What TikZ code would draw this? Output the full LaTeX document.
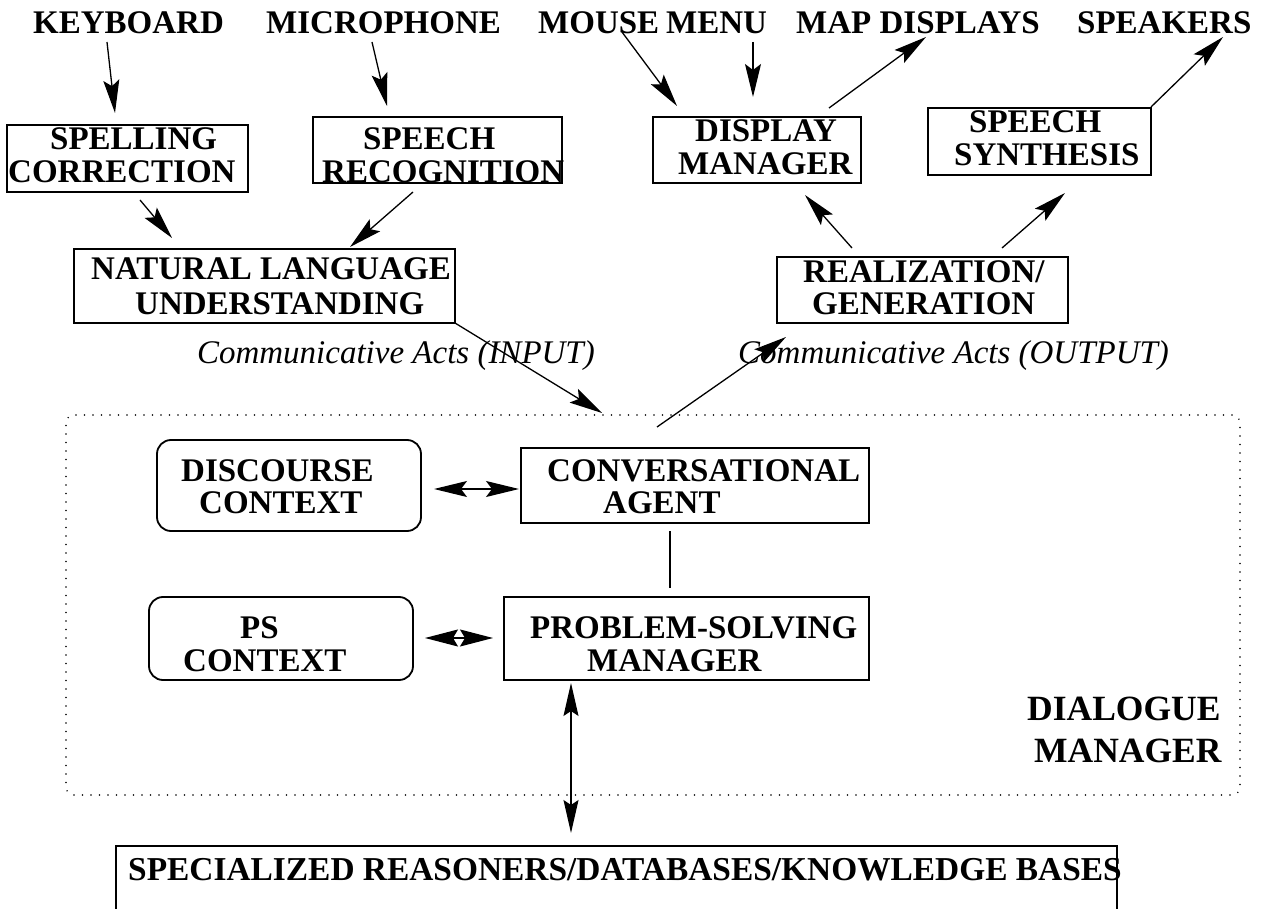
\documentclass[tikz,border=0pt]{standalone}
\usepackage{fontspec}
\setmainfont{Liberation Serif}
\usetikzlibrary{arrows.meta}
\tikzset{
 lbl/.style={inner sep=0pt, anchor=base west, font=\fontsize{33}{33}\selectfont\bfseries},
 dlbl/.style={inner sep=0pt, anchor=base west, font=\fontsize{35.5}{35.5}\selectfont\bfseries},
 ital/.style={inner sep=0pt, font=\fontsize{33}{33}\selectfont\itshape},
 box/.style={draw, line width=1.8pt, inner sep=0pt},
 rbox/.style={box, rounded corners=14pt},
 dmbox/.style={draw, line width=1.6pt, line cap=round, dash pattern=on 0pt off 8.5pt, rounded corners=8pt, inner sep=0pt},
 arr/.style={line width=1.3pt, -{Stealth[length=33pt,width=16pt,inset=6pt]}},
 darr/.style={line width=1.3pt, {Stealth[length=33pt,width=16pt,inset=6pt]}-{Stealth[length=33pt,width=16pt,inset=6pt]}},
 pdarr/.style={line width=1.3pt, {Stealth[length=33pt,width=17pt,inset=5pt]}-{Stealth[length=33pt,width=17pt,inset=5pt]}},
 vdarr/.style={line width=1.3pt, {Stealth[length=33pt,width=15pt,inset=5pt]}-{Stealth[length=33pt,width=15pt,inset=5pt]}},
 link/.style={line width=1.3pt},
}
\begin{document}
\begin{tikzpicture}[x=1pt,y=-1pt]
\useasboundingbox (0,0) rectangle (1267,909);
\clip (0,0) rectangle (1267,909);
\fill[white] (0,0) rectangle (1267,909);

% top labels
\node[lbl] (kb) at (33,34) {KEYBOARD};
\node[lbl] (mic) at (266,34) {MICROPHONE};
\node[lbl] (mouse) at (538,34) {MOUSE};
\node[lbl] (menu) at (666,34) {MENU};
\node[lbl] (map) at (796,34) {MAP DISPLAYS};
\node[lbl] (spk) at (1077,34) {SPEAKERS};

% boxes
\node[box, minimum width=241pt, minimum height=67pt] (spell) at (127.5,158.5) {};
\node[lbl] (spell1) at (50,150) {SPELLING};
\node[lbl] (spell2) at (8,183) {CORRECTION};

\node[box, minimum width=249pt, minimum height=66pt] (sreco) at (437.5,150) {};
\node[lbl] (sreco1) at (363,150) {SPEECH};
\node[lbl] (sreco2) at (322,183) {RECOGNITION};

\node[box, minimum width=381pt, minimum height=74pt] (nlu) at (264.5,286) {};
\node[lbl] (nlu1) at (91,280) {NATURAL LANGUAGE};
\node[lbl] (nlu2) at (135,315) {UNDERSTANDING};

\node[box, minimum width=208pt, minimum height=66pt] (disp) at (757,150) {};
\node[lbl] (disp1) at (695,142) {DISPLAY};
\node[lbl] (disp2) at (678,175) {MANAGER};

\node[box, minimum width=223pt, minimum height=67pt] (synth) at (1039.5,141.5) {};
\node[lbl] (synth1) at (969,133) {SPEECH};
\node[lbl] (synth2) at (954,166) {SYNTHESIS};

\node[box, minimum width=291pt, minimum height=66pt] (real) at (922.5,290) {};
\node[lbl] (real1) at (803,283) {REALIZATION/};
\node[lbl] (real2) at (812,315) {GENERATION};

\node[ital, anchor=base east] (cin) at (595,364) {Communicative Acts (INPUT)};
\node[ital, anchor=base west] (cout) at (738,364) {Communicative Acts (OUTPUT)};

% dialogue manager
\node[dmbox, minimum width=1174pt, minimum height=380pt] (dm) at (653,605) {};
\node[dlbl] (dm1) at (1027,720) {DIALOGUE};
\node[dlbl] (dm2) at (1034,762) {MANAGER};

\node[rbox, minimum width=264pt, minimum height=91pt] (disc) at (289,485.5) {};
\node[lbl] (disc1) at (181,481) {DISCOURSE};
\node[lbl] (disc2) at (199,513) {CONTEXT};

\node[box, minimum width=348pt, minimum height=75pt] (conv) at (695,485.5) {};
\node[lbl] (conv1) at (547,481) {CONVERSATIONAL};
\node[lbl] (conv2) at (603,513) {AGENT};

\node[rbox, minimum width=264pt, minimum height=83pt] (psc) at (281,638.5) {};
\node[lbl] (psc1) at (240,638) {PS};
\node[lbl] (psc2) at (183,671) {CONTEXT};

\node[box, minimum width=365pt, minimum height=83pt] (psm) at (686.5,638.5) {};
\node[lbl] (psm1) at (530,638) {PROBLEM-SOLVING};
\node[lbl] (psm2) at (587,671) {MANAGER};

\node[box, minimum width=1001pt, minimum height=104pt] (spec) at (616.5,898) {};
\node[lbl, font=\fontsize{33.4}{33.4}\selectfont\bfseries] (spec1) at (128,880) {SPECIALIZED REASONERS/DATABASES/KNOWLEDGE BASES};

% connector end points
\coordinate (kbS) at (107,42);   \coordinate (spellN) at (115,113);
\coordinate (micS) at (372,42);  \coordinate (srecoN) at (387,106);
\coordinate (spellS) at (140,200); \coordinate (nluNa) at (172,238);
\coordinate (srecoS) at (413,192); \coordinate (nluNb) at (350,247);
\coordinate (mouseS) at (622,32); \coordinate (dispNa) at (677,106);
\coordinate (menuS) at (753,42); \coordinate (dispNb) at (753,97);
\coordinate (dispNE) at (829,108); \coordinate (mapS) at (926,37);
\coordinate (synthNE) at (1151,107); \coordinate (spkS) at (1223,37);
\coordinate (realNa) at (852,248); \coordinate (dispS) at (805,195);
\coordinate (realNb) at (1002,248); \coordinate (synthS) at (1065,193);
\coordinate (nluSE) at (455,323); \coordinate (dmNa) at (602,413);
\coordinate (dmNb) at (657,427); \coordinate (realS) at (786,337);
\coordinate (discE) at (434,489); \coordinate (convW) at (519,489);
\coordinate (convS) at (670,531); \coordinate (psmN) at (670,588);
\coordinate (pscE) at (425,638); \coordinate (psmW) at (493,638);
\coordinate (psmS) at (571,683); \coordinate (specN) at (571,833);

\draw[arr] (kbS) -- (spellN);
\draw[arr] (micS) -- (srecoN);
\draw[arr] (spellS) -- (nluNa);
\draw[arr] (srecoS) -- (nluNb);
\draw[arr] (mouseS) -- (dispNa);
\draw[arr] (menuS) -- (dispNb);
\draw[arr] (dispNE) -- (mapS);
\draw[arr] (synthNE) -- (spkS);
\draw[arr] (realNa) -- (dispS);
\draw[arr] (realNb) -- (synthS);
\draw[arr] (nluSE) -- (dmNa);
\draw[arr] (dmNb) -- (realS);
\draw[darr] (discE) -- (convW);
\draw[link] (convS) -- (psmN);
\draw[pdarr] (pscE) -- (psmW);
\draw[vdarr] (psmS) -- (specN);
\end{tikzpicture}
\end{document}
